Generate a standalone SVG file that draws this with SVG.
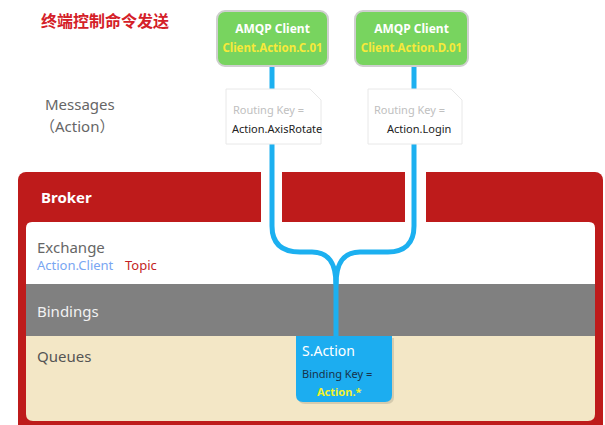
<svg xmlns="http://www.w3.org/2000/svg" width="605" height="425" viewBox="0 0 605 425">
<style>
text{font-family:"Noto Sans","Open Sans","Liberation Sans","Noto Sans CJK SC",sans-serif}
.client{fill:#78d45f;stroke:#cfcfcf;stroke-width:2}
.ct{fill:#fff;font-size:12px;font-weight:bold;text-anchor:middle}
.cy{fill:#f7e93a;font-size:11.5px;font-weight:bold;text-anchor:middle}
.msg{fill:#fff;stroke:#e8e8e8;stroke-width:1}
.rk{fill:#c0c0c0;font-size:11px}
.rv{fill:#222;font-size:11px}
.conn{fill:none;stroke:#1cb0f0;stroke-width:5}
.label{fill:#666;font-size:15px}
</style>
<rect width="605" height="425" fill="#fff"/>
<text x="41" y="27" font-size="16" font-weight="bold" fill="#d42028" style="font-family:'Noto Sans CJK SC',sans-serif">终端控制命令发送</text>
<g id="messages-label">
<text x="45" y="110" class="label" font-size="16">Messages</text>
<text x="40" y="132" class="label" font-size="16">（Action）</text>
</g>
<g id="broker">
<rect x="18" y="172" width="585" height="262" rx="8" fill="#be1b1b"/>
<rect x="261" y="172" width="21" height="52" fill="#fff"/>
<rect x="405" y="172" width="21" height="52" fill="#fff"/>
<text x="41" y="203" fill="#fff" font-size="15" font-weight="bold">Broker</text>
</g>
<g id="exchange">
<path d="M26,284 V228 Q26,222 32,222 H589 Q595,222 595,228 V284 Z" fill="#fff"/>
<text x="37" y="253" class="label">Exchange</text>
<text x="37" y="270" font-size="13" fill="#79a6f2">Action.Client</text>
<text x="125" y="270" font-size="13" fill="#c41f24">Topic</text>
</g>
<g id="bindings">
<rect x="26" y="284" width="569" height="52" fill="#808080"/>
<text x="37" y="317" font-size="15" fill="#f2f2f2">Bindings</text>
</g>
<g id="queues">
<path d="M26,336 H595 V414 Q595,421 588,421 H33 Q26,421 26,414 Z" fill="#f3e7c6"/>
<text x="37" y="362" font-size="15" fill="#555">Queues</text>
</g>
<g id="connectors">
<path class="conn" d="M272,66 V226 C272,244 282,252 300,252 H312 C328,252 336,262 336,285 V340"/>
<path class="conn" d="M414,66 V226 C414,244 404,252 388,252 H360 C344,252 336,262 336,285"/>
</g>
<g id="queue-saction">
<path d="M298,338 H394 V397 Q394,404 387,404 H305 Q298,404 298,397 Z" fill="#000" opacity="0.12"/>
<path d="M296,336 H392 V395 Q392,402 385,402 H303 Q296,402 296,395 Z" fill="#1cadf0"/>
<text x="302" y="356" font-size="14" fill="#fff">S.Action</text>
<text x="302" y="378" font-size="11" fill="#17324a">Binding Key =</text>
<text x="317" y="396" font-size="11" font-weight="bold" fill="#f2f22a">Action.*</text>
</g>
<g id="client-c">
<rect class="client" x="217" y="11" width="111" height="55" rx="8"/>
<text x="272.5" y="33" class="ct">AMQP Client</text>
<text x="272.5" y="52" class="cy">Client.Action.C.01</text>
</g>
<g id="client-d">
<rect class="client" x="355" y="11" width="113" height="55" rx="8"/>
<text x="411.5" y="33" class="ct">AMQP Client</text>
<text x="411.5" y="52" class="cy">Client.Action.D.01</text>
</g>
<g id="msg-axisrotate">
<path class="msg" d="M226,89 H310 L321,100 V144 H226 Z"/>
<text x="233" y="114" class="rk">Routing Key =</text>
<text x="232" y="133" class="rv">Action.AxisRotate</text>
</g>
<g id="msg-login">
<path class="msg" d="M368,89 H451 L462,100 V144 H368 Z"/>
<text x="374" y="114" class="rk">Routing Key =</text>
<text x="387" y="133" class="rv">Action.Login</text>
</g>
</svg>
